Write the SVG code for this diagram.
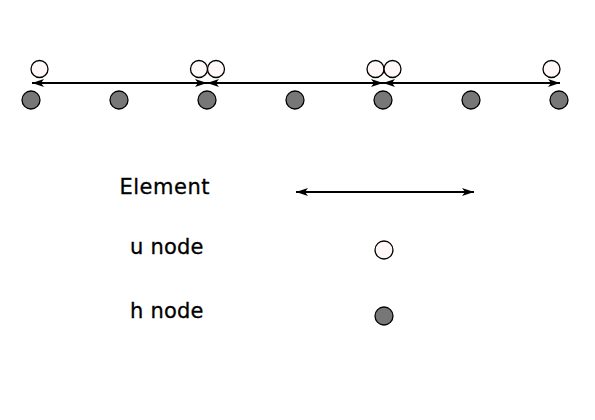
<svg xmlns="http://www.w3.org/2000/svg" width="595" height="420" viewBox="0 0 595 420">
<style>
.h{fill:#777777;stroke:#000;stroke-width:1.3}
.u{fill:#fff8f8;stroke:#000;stroke-width:1.3}
.el{stroke:#000;stroke-width:2;fill:none;marker-start:url(#a);marker-end:url(#a)}
.t{font-family:"DejaVu Sans",sans-serif;font-size:21px;fill:#000;stroke:#000;stroke-width:0.3}
</style>
<defs>
<marker id="a" viewBox="0 0 12 8" refX="12" refY="4" markerWidth="12" markerHeight="8" markerUnits="userSpaceOnUse" orient="auto-start-reverse">
<path d="M0,0 L12,4 L0,8 L3,4 Z" fill="#000"/>
</marker>
</defs>
<rect width="595" height="420" fill="#fff"/>
<g id="connectors">
<line class="el" x1="32" y1="83" x2="207" y2="83"/>
<line class="el" x1="207" y1="83" x2="383" y2="83"/>
<line class="el" x1="383" y1="83" x2="560" y2="83"/>
<line class="el" x1="296" y1="192" x2="474" y2="192"/>
</g>
<g id="h1"><circle class="h" cx="31" cy="100" r="9"/></g>
<g id="h2"><circle class="h" cx="119" cy="100" r="9"/></g>
<g id="h3"><circle class="h" cx="207" cy="100" r="9"/></g>
<g id="h4"><circle class="h" cx="295" cy="100" r="9"/></g>
<g id="h5"><circle class="h" cx="383" cy="100" r="9"/></g>
<g id="h6"><circle class="h" cx="471" cy="100" r="9"/></g>
<g id="h7"><circle class="h" cx="559" cy="100" r="9"/></g>
<g id="u1"><circle class="u" cx="39.5" cy="69" r="8.5"/></g>
<g id="u2"><circle class="u" cx="199" cy="69" r="8.5"/></g>
<g id="u3"><circle class="u" cx="216" cy="69" r="8.5"/></g>
<g id="u4"><circle class="u" cx="375.5" cy="69" r="8.5"/></g>
<g id="u5"><circle class="u" cx="392.5" cy="69" r="8.5"/></g>
<g id="u6"><circle class="u" cx="551.5" cy="69" r="8.5"/></g>
<g id="legend">
<text class="t" x="119.5" y="194" letter-spacing="0.5">Element</text>
<text class="t" x="130" y="254" letter-spacing="0.2">u node</text>
<text class="t" x="130" y="318" letter-spacing="0.2">h node</text>
<g id="legend-u"><circle class="u" cx="384" cy="250" r="9"/></g>
<g id="legend-h"><circle class="h" cx="384" cy="316" r="9"/></g>
</g>
</svg>
